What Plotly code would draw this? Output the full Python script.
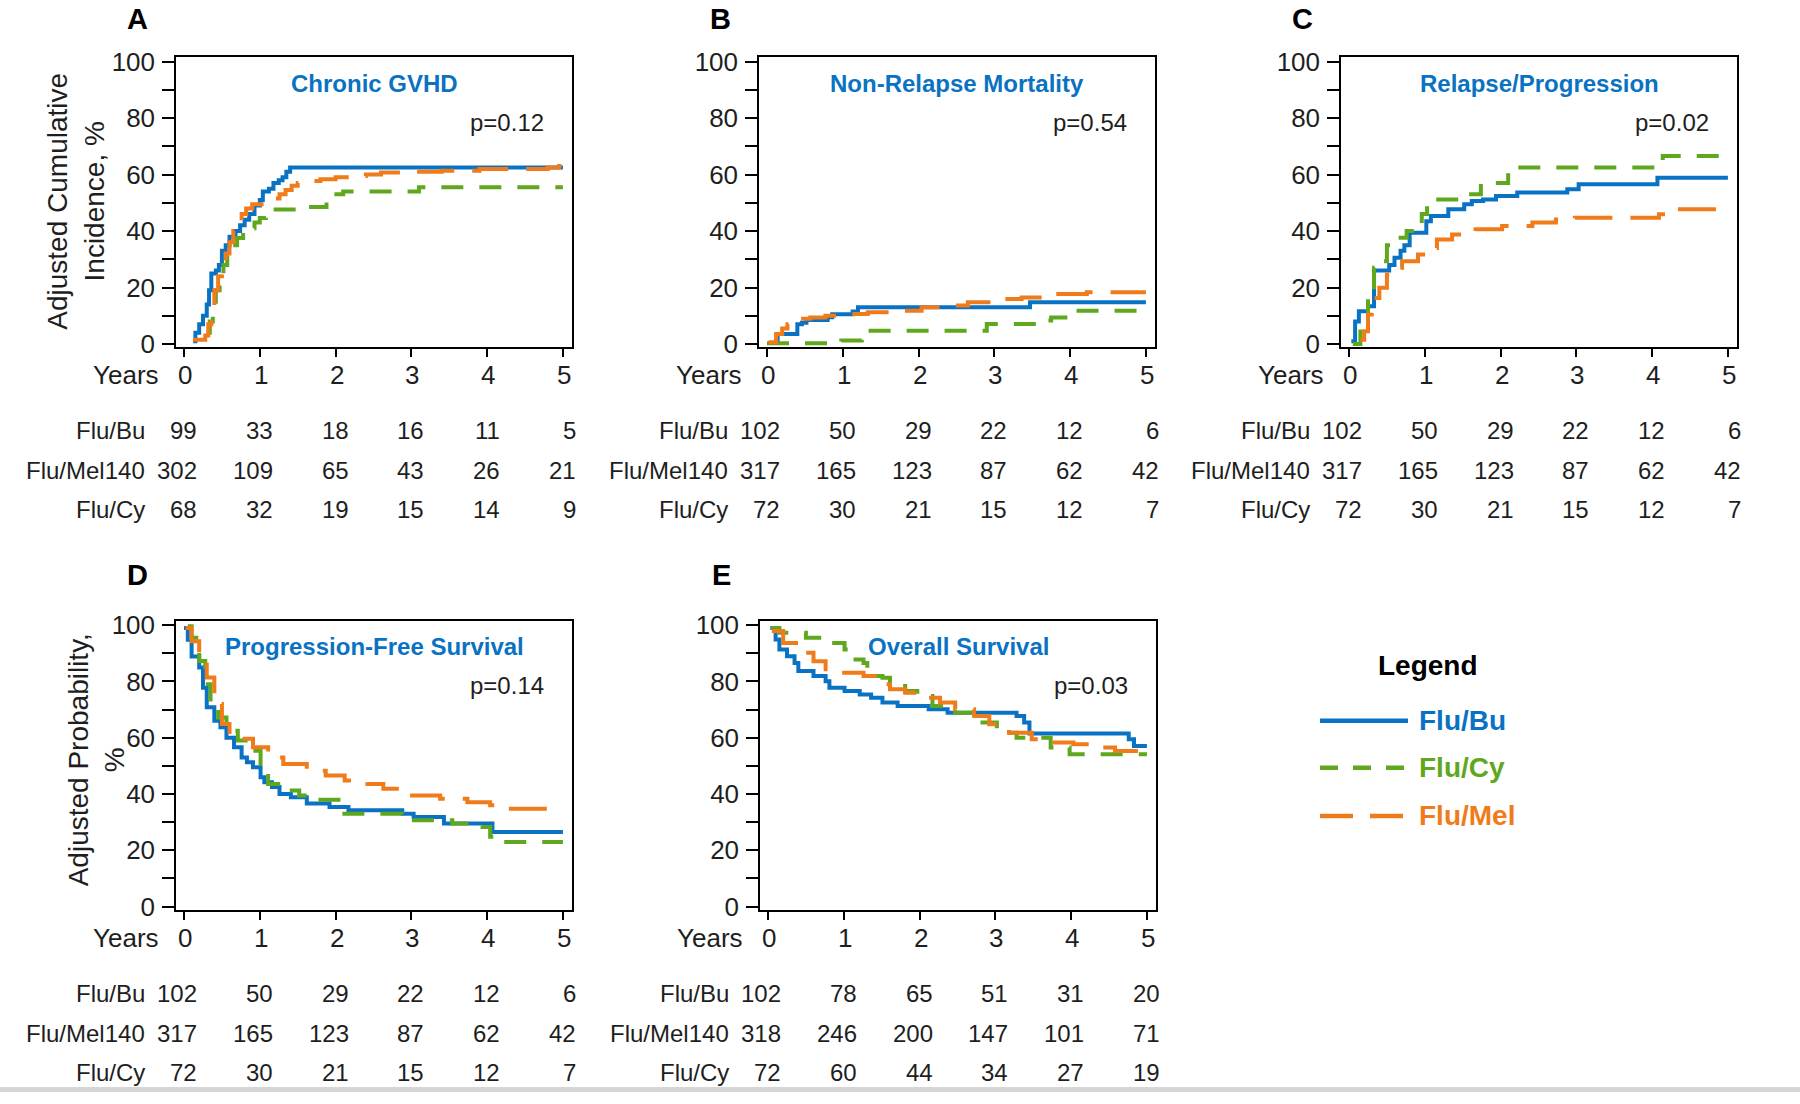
import plotly.graph_objects as go

W, H = 1800, 1104
# measured vertical mapping of the photographed page: shot_y = 0.979 * page_y + 10
V_SCALE, V_OFF = 0.979, 10.0

# ---------------- data ----------------
year_ticks = [0, 1, 2, 3, 4, 5]
risk_groups = ["Flu/Bu", "Flu/Mel140", "Flu/Cy"]
panel_letters = ["A", "B", "C", "D", "E"]
panel_titles = ["Chronic GVHD", "Non-Relapse Mortality", "Relapse/Progression",
                "Progression-Free Survival", "Overall Survival"]
panel_pvalues = ["p=0.12", "p=0.54", "p=0.02", "p=0.14", "p=0.03"]
legend_names = ["Flu/Bu", "Flu/Cy", "Flu/Mel"]

# A: Chronic GVHD (cumulative incidence, %)
cgvhd_bu_t = [0.12, 0.15, 0.2, 0.25, 0.3, 0.33, 0.36, 0.42, 0.46, 0.5, 0.55, 0.6, 0.68, 0.74, 0.8, 0.86, 0.93, 1.0, 1.04, 1.12, 1.18, 1.25, 1.3, 1.35, 1.4, 5.0]
cgvhd_bu_v = [1, 4, 7, 10, 14, 19, 25, 26, 28, 33, 35, 38, 40, 42, 44, 46, 49, 51, 54, 55, 57, 58, 59, 61, 62.5, 62.5]
cgvhd_mel_t = [0.12, 0.28, 0.32, 0.36, 0.4, 0.45, 0.5, 0.55, 0.6, 0.65, 0.7, 0.76, 0.82, 0.9, 1.1, 1.18, 1.26, 1.34, 1.42, 1.5, 1.65, 1.8, 2.0, 2.2, 2.4, 2.6, 2.9, 3.4, 3.9, 4.8, 4.95, 5.0]
cgvhd_mel_v = [1.5, 3, 7, 12, 19, 24, 29, 32, 36, 40, 43, 46, 48, 49.5, 50, 51.5, 53, 54.5, 56, 57, 57.7, 58.3, 59, 59.5, 60, 60.7, 61, 61.3, 62, 62.5, 63, 63]
cgvhd_cy_t = [0.3, 0.34, 0.38, 0.42, 0.47, 0.52, 0.57, 0.63, 0.7, 0.78, 0.86, 0.93, 1.0, 1.08, 1.5, 1.88, 2.1, 3.1, 5.0]
cgvhd_cy_v = [4, 8, 14, 19, 24, 28, 32, 35, 37.5, 39.5, 41, 43, 44.6, 47.6, 48.5, 53, 54, 55.5, 55.5]

# B: Non-Relapse Mortality
nrm_bu_t = [0.09, 0.14, 0.4, 0.46, 0.52, 0.8, 0.86, 1.13, 1.2, 3.47, 5.0]
nrm_bu_v = [1, 3.5, 7, 7.5, 8.5, 9.5, 10.5, 11.5, 13, 14.8, 14.8]
nrm_mel_t = [0.02, 0.12, 0.2, 0.27, 0.42, 0.57, 0.77, 1.03, 1.33, 1.63, 2.04, 2.34, 2.65, 3.0, 3.36, 3.66, 4.22, 5.0]
nrm_mel_v = [0.6, 3.5, 5.5, 7, 8.9, 9.4, 10, 10.6, 11.2, 11.8, 13, 13.6, 14.8, 15.9, 16.5, 17.7, 18.3, 18.3]
nrm_cy_t = [0.0, 0.98, 1.25, 1.28, 2.9, 3.71, 3.75, 4.01, 5.0]
nrm_cy_v = [0.3, 1.2, 3, 4.7, 7.1, 8.3, 9.4, 11.8, 11.8]

# C: Relapse/Progression
rel_bu_t = [0.03, 0.08, 0.13, 0.25, 0.33, 0.53, 0.6, 0.68, 0.73, 0.8, 1.02, 1.08, 1.31, 1.52, 1.62, 1.77, 1.94, 2.22, 2.88, 3.03, 4.07, 5.0]
rel_bu_v = [1, 8, 11.6, 13.4, 26, 28, 30.5, 33, 35, 39.4, 43.5, 45.3, 47.7, 49.5, 50.6, 51.2, 52.4, 53.6, 54.8, 56.6, 58.9, 58.9]
rel_mel_t = [0.15, 0.2, 0.25, 0.3, 0.4, 0.5, 0.56, 0.7, 0.91, 1.01, 1.16, 1.36, 1.52, 1.67, 2.02, 2.42, 2.73, 2.98, 4.09, 4.19, 4.9, 5.0]
rel_mel_v = [1.5, 4.5, 10.4, 16.3, 19.9, 24.6, 27, 29.3, 31.7, 34, 37, 38.8, 40, 40.6, 41.8, 43, 44.1, 44.7, 45.9, 47.7, 48.3, 48.9]
rel_cy_t = [0.05, 0.15, 0.25, 0.33, 0.45, 0.5, 0.6, 0.76, 0.86, 0.96, 1.03, 1.56, 1.74, 2.1, 2.17, 4.04, 4.14, 5.0]
rel_cy_v = [0, 7, 17.5, 27, 29.3, 35, 37.6, 40, 41.2, 46, 51.2, 53, 57, 61.3, 62.5, 64.8, 66.6, 66.6]

# D: Progression-Free Survival (adjusted probability, %)
pfs_bu_t = [0, 0.05, 0.1, 0.2, 0.25, 0.3, 0.4, 0.48, 0.56, 0.66, 0.76, 0.83, 0.91, 1.01, 1.06, 1.16, 1.26, 1.41, 1.62, 1.92, 2.17, 2.88, 3.03, 3.43, 4.07, 5.0]
pfs_bu_v = [99, 94.8, 88.9, 85, 77.8, 70.8, 66, 63.7, 60, 56.6, 53, 51.3, 49.5, 46, 44.2, 42.5, 40, 38.9, 36.6, 35.4, 34.2, 33, 31.8, 29.5, 26.5, 26.5]
pfs_mel_t = [0.02, 0.1, 0.2, 0.3, 0.4, 0.5, 0.6, 0.76, 0.91, 1.11, 1.31, 1.62, 1.87, 2.12, 2.42, 2.63, 2.93, 3.38, 3.74, 4.04, 4.24, 4.85, 5.0]
pfs_mel_v = [99, 94.3, 89.6, 81.4, 72, 64.9, 61.3, 59.6, 56.6, 53, 50.7, 48.3, 46.6, 44.8, 43.6, 41.9, 39.5, 38.3, 37.1, 36, 34.8, 34.2, 34.2]
pfs_cy_t = [0.05, 0.1, 0.2, 0.28, 0.35, 0.45, 0.56, 0.71, 0.86, 1.01, 1.11, 1.31, 1.52, 1.8, 2.07, 2.88, 3.54, 3.94, 4.04, 4.09, 5.0]
pfs_cy_v = [99.6, 95.5, 87.3, 79, 70.8, 67.2, 62.5, 59, 55.4, 47.2, 43.6, 41.3, 39.5, 38, 33, 30.7, 29.5, 28.3, 24.8, 23, 23]

# E: Overall Survival
os_bu_t = [0.03, 0.1, 0.15, 0.25, 0.35, 0.4, 0.6, 0.76, 0.81, 1.01, 1.21, 1.36, 1.51, 1.71, 2.12, 2.37, 3.28, 3.38, 3.45, 4.76, 4.83, 5.0]
os_bu_v = [99, 94.9, 91.4, 89, 86.6, 83.7, 81.9, 80.1, 77.8, 76.6, 75.4, 74.2, 72.5, 71.3, 70.1, 68.9, 67.7, 65.4, 61.5, 59.5, 57.1, 57.1]
os_mel_t = [0.05, 0.2, 0.4, 0.6, 0.76, 0.96, 1.26, 1.45, 1.61, 1.81, 2.02, 2.27, 2.47, 2.72, 2.92, 3.18, 3.48, 3.78, 4.03, 4.33, 4.58, 5.0]
os_mel_v = [97.9, 93.7, 90.2, 87.2, 84.3, 83.1, 81.9, 79, 77.2, 76, 74.2, 72.5, 70.1, 67.7, 64.8, 61.8, 59.5, 58.3, 57.7, 56.5, 55.3, 54.7]
os_cy_t = [0.04, 0.15, 0.5, 0.81, 1.01, 1.11, 1.26, 1.31, 1.51, 1.61, 1.81, 1.97, 2.17, 2.47, 2.72, 3.02, 3.28, 3.73, 3.98, 5.0]
os_cy_v = [99, 97.3, 95.5, 93.7, 91.4, 87.8, 86.6, 81.9, 81.3, 78.4, 76.6, 74.8, 71.3, 68.9, 65.4, 61.8, 60.0, 56.5, 54.1, 54.1]

# numbers at risk (Flu/Bu, Flu/Mel140, Flu/Cy) at years 0..5
risk_a = [[99, 33, 18, 16, 11, 5], [302, 109, 65, 43, 26, 21], [68, 32, 19, 15, 14, 9]]
risk_b = [[102, 50, 29, 22, 12, 6], [317, 165, 123, 87, 62, 42], [72, 30, 21, 15, 12, 7]]
risk_c = [[102, 50, 29, 22, 12, 6], [317, 165, 123, 87, 62, 42], [72, 30, 21, 15, 12, 7]]
risk_d = [[102, 50, 29, 22, 12, 6], [317, 165, 123, 87, 62, 42], [72, 30, 21, 15, 12, 7]]
risk_e = [[102, 78, 65, 51, 31, 20], [318, 246, 200, 147, 101, 71], [72, 60, 44, 34, 27, 19]]

# ---------------- styling ----------------
BLUE = "#0A72C2"
GREEN = "#5FA81E"
ORANGE = "#F07B1A"
TXT = "#1e1e1e"
FONT = "Liberation Sans, Arial, sans-serif"
styles = {
    "bu": dict(color=BLUE, width=4, dash="solid"),
    "cy": dict(color=GREEN, width=4, dash="22px,16px"),
    "mel": dict(color=ORANGE, width=4, dash="38px,18px"),
}

panels = [
    dict(series=[("bu", cgvhd_bu_t, cgvhd_bu_v), ("cy", cgvhd_cy_t, cgvhd_cy_v), ("mel", cgvhd_mel_t, cgvhd_mel_v)], risk=risk_a),
    dict(series=[("bu", nrm_bu_t, nrm_bu_v), ("cy", nrm_cy_t, nrm_cy_v), ("mel", nrm_mel_t, nrm_mel_v)], risk=risk_b),
    dict(series=[("bu", rel_bu_t, rel_bu_v), ("cy", rel_cy_t, rel_cy_v), ("mel", rel_mel_t, rel_mel_v)], risk=risk_c),
    dict(series=[("bu", pfs_bu_t, pfs_bu_v), ("cy", pfs_cy_t, pfs_cy_v), ("mel", pfs_mel_t, pfs_mel_v)], risk=risk_d),
    dict(series=[("bu", os_bu_t, os_bu_v), ("cy", os_cy_t, os_cy_v), ("mel", os_mel_t, os_mel_v)], risk=risk_e),
]

# plot boxes in target pixels: left, right, top, bottom
boxes = [(176, 572, 57, 347), (759, 1155, 57, 347), (1341, 1737, 57, 347),
         (176, 572, 620, 909), (760, 1156, 620, 909)]
letter_dy = [38, 38, 38, 46, 46]


def px(x):
    return x / W


def py(y):
    page_y = (y - V_OFF) / V_SCALE
    return 1 - page_y / H


def note(text, x, y, size, color=TXT, xanchor="center", xref="paper", xshift=0, angle=0):
    return dict(text=text, x=x, y=y, xref=xref, yref="paper", xanchor=xanchor, yanchor="middle",
                xshift=xshift, textangle=angle, showarrow=False,
                font=dict(family=FONT, size=size, color=color))


fig = go.Figure()
annotations = []
shapes = []
layout = {}

for i, (p, box) in enumerate(zip(panels, boxes)):
    k = "" if i == 0 else str(i + 1)
    l, r, t, b = box
    xa, ya = "x" + k, "y" + k
    for key, tt, vv in p["series"]:
        fig.add_trace(go.Scatter(x=tt, y=vv, mode="lines", line=dict(shape="hv", **styles[key]),
                                 xaxis=xa, yaxis=ya, showlegend=False, hoverinfo="skip"))
    layout["xaxis" + k] = dict(
        domain=[px(l), px(r)], anchor=ya, range=[-0.106, 5.12], tickvals=year_ticks,
        ticks="outside", ticklen=8, tickwidth=1.5, tickcolor="black",
        showline=True, mirror=True, linewidth=1.5, linecolor="black",
        showgrid=False, zeroline=False, showticklabels=False, fixedrange=True)
    layout["yaxis" + k] = dict(
        domain=[py(b), py(t)], anchor=xa, range=[-1.2, 101.6],
        tickvals=list(range(0, 101, 10)),
        ticktext=[str(v) if v % 20 == 0 else "" for v in range(0, 101, 10)],
        ticks="outside", ticklen=12, tickwidth=1.5, tickcolor="black",
        showline=True, mirror=True, linewidth=1.5, linecolor="black",
        showgrid=False, zeroline=False, tickfont=dict(family=FONT, size=26, color=TXT),
        ticklabelstandoff=2, fixedrange=True)

    annotations.append(note("<b>%s</b>" % panel_letters[i], px(l - 39), py(t - letter_dy[i]), 29, "black"))
    annotations.append(note("<b>%s</b>" % panel_titles[i], px((l + r) / 2), py(t + 26), 24, BLUE))
    annotations.append(note(panel_pvalues[i], px(r - 26), py(t + 65), 24, xanchor="right"))
    # x tick labels and "Years"
    annotations.append(note("Years", 0, py(b + 28), 26, xanchor="right", xref=xa, xshift=-23))
    for yr in year_ticks:
        annotations.append(note(str(yr), yr, py(b + 28), 26, xref=xa, xshift=1))
    # numbers at risk
    for j, (grp, row) in enumerate(zip(risk_groups, p["risk"])):
        yy = py(b + [83, 123, 162][j])
        annotations.append(note(grp, 0, yy, 24, xanchor="right", xref=xa, xshift=-37))
        for yr, n in zip(year_ticks, row):
            annotations.append(note(str(n), yr, yy, 24, xanchor="right", xref=xa, xshift=15))

# y-axis titles
annotations.append(note("Adjusted Cumulative<br>Incidence, %", px(75.5), py(201), 28, angle=-90))
annotations.append(note("Adjusted Probability,<br>%", px(96.5), py(759), 28, angle=-90))

# legend (drawn manually)
annotations.append(note("<b>Legend</b>", px(1428), py(665), 28, "black"))
legend_dash = {"bu": "solid", "cy": "18px,15px", "mel": "33px,17px"}
for name, key, yy in zip(legend_names, ["bu", "cy", "mel"], [720, 767, 815]):
    st = styles[key]
    shapes.append(dict(type="line", xref="paper", yref="paper", x0=px(1320), x1=px(1408),
                       y0=py(yy), y1=py(yy), line=dict(color=st["color"], width=4.5, dash=legend_dash[key])))
    annotations.append(note("<b>%s</b>" % name, px(1417), py(yy), 28, st["color"], xanchor="left"))

# light grey strip at the bottom edge
shapes.append(dict(type="rect", xref="paper", yref="paper", x0=-0.01, x1=1.01, y0=0, y1=5 / H,
                   fillcolor="#d6d6d6", line=dict(width=0), layer="below"))

fig.update_layout(width=W, height=H, margin=dict(l=0, r=0, t=0, b=0),
                  paper_bgcolor="white", plot_bgcolor="white",
                  annotations=annotations, shapes=shapes, **layout)

fig.write_html("out.html", config={"displayModeBar": False},
               post_script="document.body.style.margin='0';")
